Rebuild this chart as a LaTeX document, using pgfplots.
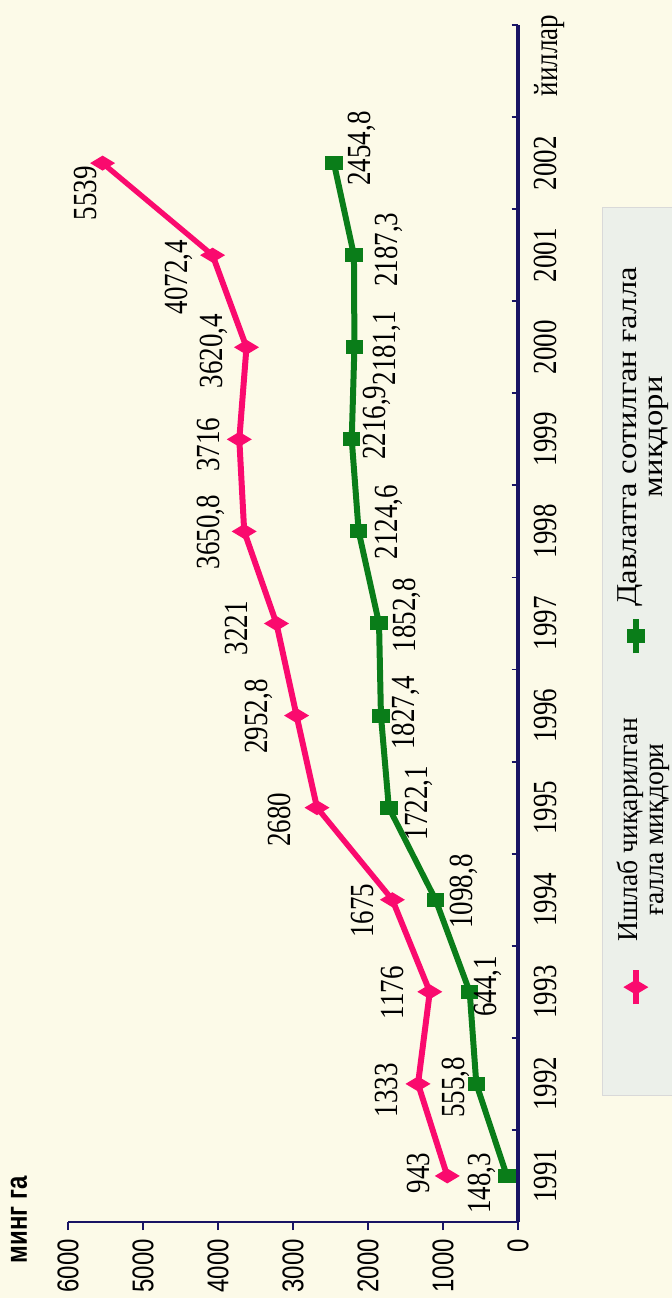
\documentclass[border=0pt]{standalone}
\usepackage{fontspec}
\setmainfont{Liberation Serif}
\newfontfamily\sansf{Liberation Sans}
\newfontfamily\legf[FakeStretch=1.2]{Liberation Serif}
\newfontfamily\legfb[FakeStretch=1.42]{Liberation Serif}
\usepackage{graphicx}
\usepackage{pgfplots}
\pgfplotsset{compat=1.18}
\definecolor{bgc}{RGB}{252,250,232}
\definecolor{legc}{RGB}{236,240,234}
\definecolor{pinkc}{RGB}{250,10,110}
\definecolor{greenc}{RGB}{10,125,25}
\definecolor{navyc}{RGB}{25,20,100}
\newsavebox{\chartbox}
\begin{document}
\begin{lrbox}{\chartbox}%
\begin{tikzpicture}
\fill[bgc] (-38pt,-61.6pt) rectangle (611pt,207.2pt);
\useasboundingbox (-38pt,-61.6pt) rectangle (611pt,207.2pt);
\fill[legc, draw=black!15] (63.5pt,-34pt) rectangle (507.5pt,-66pt);
\begin{axis}[
  at={(0pt,0pt)}, anchor=south west,
  scale only axis, width=598.5pt, height=180pt,
  xmin=0.5, xmax=13.5, ymin=0, ymax=6000,
  axis x line=bottom, axis y line=left,
  axis line style={draw=navyc, line width=1.3pt, -},
  xtick={1,2,3,4,5,6,7,8,9,10,11,12,13.17},
  xticklabels={1991,1992,1993,1994,1995,1996,1997,1998,1999,2000,2001,2002,йиллар},
  minor xtick={0.5,1.5,2.5,3.5,4.5,5.5,6.5,7.5,8.5,9.5,10.5,11.5,12.5,13.5},
  ytick={0,1000,2000,3000,4000,5000,6000},
  tick align=outside,
  major tick length=4pt, minor tick length=-2.5pt,
  tick style={draw=navyc, line width=0.9pt},
  major x tick style={draw=none},
  xticklabel style={font=\fontsize{13.5}{13.5}\selectfont, text=black, yshift=1pt},
  yticklabel style={font=\fontsize{12}{12}\sansf, text=black, xshift=-1pt},
  /pgf/number format/assume math mode=true,
  /pgf/number format/1000 sep={},
  clip=false,
  legend columns=2,
  legend style={at={(axis description cs:0.1796,-0.262)}, anchor=west,
    draw=none, fill=none, inner sep=0pt, column sep=0pt,
    nodes={inner sep=0pt},
    font=\legf\fontsize{11.5}{10.4}\selectfont},
]
\addplot[pinkc, line width=2.4pt, mark=diamond*, mark size=3pt,
  legend image post style={xshift=47.5pt}] table {
x y
1 943
2 1333
3 1176
4 1675
5 2680
6 2952.8
7 3221
8 3650.8
9 3716
10 3620.4
11 4072.4
12 5539
};
\addlegendentry{\parbox[c]{138pt}{\centering Ишлаб чиқарилган\\ғалла миқдори}\hspace*{18pt}}
\addplot[greenc, line width=2.4pt, mark=square*, mark size=2.3pt] table {
x y
1 148.3
2 555.8
3 644.1
4 1098.8
5 1722.1
6 1827.4
7 1852.8
8 2124.6
9 2216.9
10 2181.1
11 2187.3
12 2454.8
};
\addlegendentry{\parbox[c]{180pt}{\legfb\fontsize{11.5}{10.4}\selectfont\centering Давлатга сотилган ғалла\\миқдори}}
\addplot[forget plot, draw=none, mark=none, nodes near coords, point meta=explicit symbolic,
  nodes near coords align={center},
  nodes near coords style={anchor=center, font=\fontsize{13.5}{13.5}\selectfont, text=black, inner sep=0pt}]
  table[meta=l] {
x y l
1.03 1333 943
1.93 1760 1333
2.99 1680 1176
3.88 2080 1675
4.87 3187 2680
5.99 3453 2952,8
6.95 3747 3221
7.99 4093 3650,8
8.94 4133 3716
9.96 4053 3620,4
10.76 4520 4072,4
11.675 5773 5539
};
\addplot[forget plot, draw=none, mark=none, nodes near coords, point meta=explicit symbolic,
  nodes near coords align={center},
  nodes near coords style={anchor=center, font=\fontsize{13.5}{13.5}\selectfont, text=black, inner sep=0pt}]
  table[meta=l] {
x y l
0.92 480 148,3
1.96 827 555,8
3.06 400 644,1
4.09 720 1098,8
5.05 1320 1722,1
6.03 1493 1827,4
7.09 1480 1852,8
8.10 1720 2124,6
9.18 1880 2216,9
9.99 1747 2181,1
11.06 1720 2187,3
12.16 2080 2454,8
};
\node[font=\fontsize{12}{12}\sansf\bfseries, anchor=center] at (axis description cs:0.0017,1.109) {минг га};
\end{axis}
\end{tikzpicture}%
\end{lrbox}%
\scalebox{1.25}[1]{\rotatebox{90}{\usebox{\chartbox}}}%
\end{document}
